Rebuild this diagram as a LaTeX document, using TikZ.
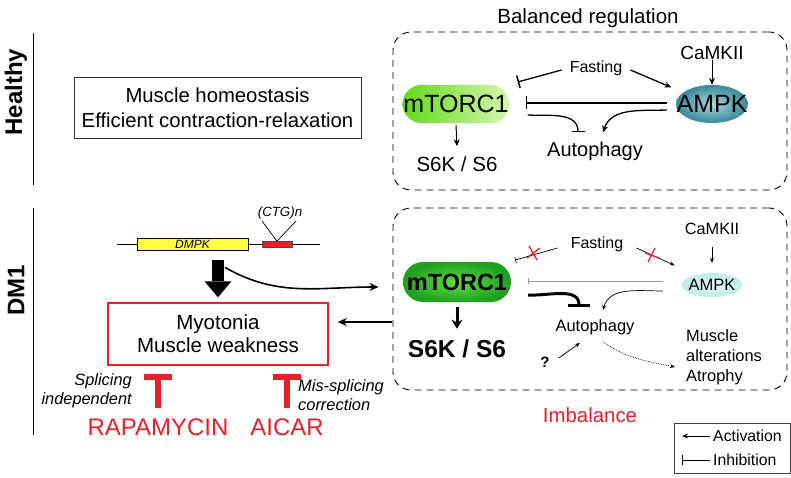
\documentclass[tikz,border=0pt]{standalone}
\usepackage{fontspec}
\setmainfont{Liberation Sans}
\usetikzlibrary{arrows.meta,shapes.misc,shapes.geometric,calc}
\definecolor{myred}{HTML}{E8202A}
\definecolor{hgreenL}{HTML}{62D81A}
\definecolor{hgreenR}{HTML}{D6F6B0}
\definecolor{dgreenI}{HTML}{5EE040}
\definecolor{dgreenO}{HTML}{1FA01F}
\definecolor{tealI}{HTML}{A6D6DE}
\definecolor{tealO}{HTML}{3A8898}
\definecolor{cyanI}{HTML}{E4FAF7}
\definecolor{cyanO}{HTML}{BCEDE8}
\definecolor{genY}{HTML}{FFFF40}
\tikzset{
  fs/.style={font=\fontsize{#1}{#1}\selectfont},
  fsb/.style={font=\bfseries\fontsize{#1}{#1}\selectfont},
  fsi/.style={font=\itshape\fontsize{#1}{#1}\selectfont},
  dbox/.style={draw, line width=0.9pt, dash pattern=on 7pt off 5pt, rounded corners=18pt},
  act/.style={-{Stealth[length=7pt,width=6pt]}, line width=1.3pt},
  actthin/.style={-{Stealth[length=5pt,width=4pt]}, line width=0.7pt},
  inh/.style={-{Bar[width=13pt,line width=1.5pt]}, line width=1.3pt},
  inhthin/.style={-{Bar[width=6pt,line width=0.7pt]}, line width=0.7pt},
  redT/.style={draw=myred, line width=5.5pt, -{Bar[width=28pt,line width=6pt]}},
  redX/.style={draw=myred, line width=1.3pt},
}
\begin{document}
\begin{tikzpicture}[x=1pt,y=-1pt, every node/.style={inner sep=0pt}]
\useasboundingbox (0,0) rectangle (791,478);

% ---------- side labels ----------
\node[rotate=90, fsb=24] (lh) at (16,92) {Healthy};
\draw[line width=0.9pt] (33,33) -- (33,185);
\node[rotate=90, fsb=24] (ld) at (16,290) {DM1};
\draw[line width=0.9pt] (33,208) -- (33,435);

% ---------- Healthy ----------
\node[draw=black!80, line width=0.8pt, minimum width=287, minimum height=61, align=center,
      font=\fontsize{20.3}{25}\selectfont] (hb) at (217.5,107.5)
      {Muscle homeostasis\\Efficient contraction-relaxation};

\node[dbox, minimum width=394, minimum height=158] (hbx) at (590,111) {};
\node[fs=20.5] (bal) at (588,18) {Balanced regulation};

\node[rounded rectangle, minimum width=107, minimum height=38, left color=hgreenL, right color=hgreenR] (hm) at (456,104) {};
\node[fs=25] (hmt) at (hm) {mTORC1};
\node[ellipse, minimum width=72, minimum height=38, inner color=tealI, outer color=tealO] (ha) at (712,104) {};
\node[fs=25] (hat) at (ha) {AMPK};
\node[fs=19] (hc) at (712,53) {CaMKII};
\node[fs=16] (hf) at (596,68) {Fasting};
\node[fs=20] (hau) at (595,151) {Autophagy};
\node[fs=20.5] (hs) at (457,164) {S6K / S6};

\draw[act, line width=1pt] (hc.south) -- (ha.north);
\draw[inh] ($(hf.west)+(-8,2)$) -- ($(hm.east)+(8,-22)$);
\draw[act] ($(hf.east)+(8,2)$) -- ($(ha.north west)+(-15,-3)$);
\draw[inh] ($(ha.west)+(-9,-1)$) -- ($(hm.east)+(16,-1)$);
\draw[inh] ($(hm.east)+(18,11)$) to[out=-3,in=90] ($(hau.north)+(-17,-9)$);
\draw[act] ($(ha.west)+(-9,6)$) to[out=182,in=72] ($(hau.north)+(8,-9)$);
\draw[act, line width=1pt] ($(hm.south)+(0,2)$) -- ($(hs.north)+(0,-10)$);

% ---------- DM1 right ----------
\node[dbox, minimum width=394, minimum height=182] (dbx) at (590,299) {};
\node[fs=20.4, text=myred] (imb) at (590,415) {Imbalance};

\node[rounded rectangle, minimum width=108, minimum height=40, inner color=dgreenI, outer color=dgreenO] (dm) at (457,282) {};
\node[fsb=23.5] (dmt) at (dm) {mTORC1};
\node[ellipse, minimum width=60, minimum height=24, inner color=cyanI, outer color=cyanO] (da) at (712,285) {};
\node[fs=16.5] (dat) at (da) {AMPK};
\node[fs=16.3] (dc) at (712,229) {CaMKII};
\node[fs=16] (df) at (597,244) {Fasting};
\node[fs=16.5] (dau) at (595,327) {Autophagy};
\node[fsb=15] (dq) at (545,362) {?};
\node[anchor=west, align=left, font=\fontsize{16.4}{20}\selectfont] (dmus) at (686,357) {Muscle\\alterations\\Atrophy};
\node[fsb=24.5] (ds) at (457,349) {S6K / S6};

\draw[actthin] ($(dc.south)+(0,12)$) -- ($(da.north)+(0,-10)$);
\draw[inhthin] ($(df.west)+(-13,4)$) -- ($(dm.east)+(4,-22)$);
\draw[redX] (527,258) -- (540,248) (529,246) -- (537,260);
\draw[actthin] ($(df.east)+(13,4)$) -- ($(da.north west)+(-16,-11)$);
\draw[redX] (645,253) -- (659,258) (648,262) -- (655,248);
\draw[draw=black!40, line width=0.9pt, -{Bar[width=6pt,line width=0.9pt]}] ($(da.west)+(-19,-4)$) -- ($(dm.east)+(17,-1)$);
\draw[line width=3pt, -{Bar[width=22pt,line width=3pt]}] ($(dm.east)+(17,13)$) to[out=-3,in=90] ($(dau.north)+(-16,-12)$);
\draw[actthin] ($(da.west)+(-19,6)$) to[out=180,in=75] ($(dau.north)+(8,-9)$);
\draw[actthin] ($(dq.east)+(9,-4)$) -- ($(dau.south)+(-15,8)$);
\draw[actthin, densely dotted] ($(dau.south)+(8,7)$) to[out=-35,in=168] ($(dmus.west)+(-11,10)$);
\draw[line width=3pt, -{Stealth[length=9pt,width=11pt]}] ($(dm.south)+(0,5)$) -- ($(ds.north)+(0,-11)$);

% ---------- DM1 left ----------
\draw[line width=0.8pt] (117,244) -- (320,244);
\node[draw, line width=0.7pt, fill=genY, minimum width=111, minimum height=12, fsi=12] (dmpk) at (192.5,244) {DMPK};
\node[draw=black!70, line width=0.6pt, fill=myred, minimum width=30, minimum height=6] (ctgb) at (277,244.5) {};
\node[fsi=13.3] (ctg) at (280,213) {(CTG)n};
\draw[line width=0.7pt] (262,221) -- (ctgb.north) -- (296,221);

\node[draw=myred, line width=1.4pt, minimum width=220, minimum height=62, align=center,
      font=\fontsize{20.5}{23}\selectfont] (myo) at (218,334) {Myotonia\\Muscle weakness};

\draw[line width=12pt, -{Triangle[length=16pt 0 0,width=27pt 0 0,line width=0pt 0 0]}] ($(myo.north |- dmpk.south)+(0,10)$) -- ($(myo.north)+(0,-5)$);
\draw[line width=1.6pt, -{Stealth[length=9pt,width=8pt]}] ($(myo.north |- dmpk.south)+(7,17)$) to[out=-30,in=180] ($(dbx.west)+(-14,-12)$);
\draw[line width=1.6pt, -{Stealth[length=9pt,width=8pt]}] ($(dbx.west)+(-1,23)$) -- ($(myo.east)+(9,-12)$);

\node[fs=24, text=myred] (rap) at (158,427) {RAPAMYCIN};
\node[fs=24, text=myred] (aic) at (287,427) {AICAR};
\draw[redT] ($(rap.north)+(0,-10)$) -- ($(myo.south -| rap.north)+(0,8)$);
\draw[redT] ($(aic.north)+(0,-10)$) -- ($(myo.south -| aic.north)+(0,8)$);
\node[anchor=east, align=right, font=\itshape\fontsize{16.4}{19}\selectfont] (spl) at (132,390.5) {Splicing\\independent};
\node[anchor=west, align=left, font=\itshape\fontsize{16.4}{19}\selectfont] (mis) at (298,395.5) {Mis-splicing\\correction};

% ---------- legend ----------
\node[draw=black!75, line width=0.8pt, minimum width=116, minimum height=50] (leg) at (732,448) {};
\node[anchor=west, fs=15.8] (la) at (713,436) {Activation};
\node[anchor=west, fs=15.8] (li) at (713,460) {Inhibition};
\draw[-{Stealth[length=6pt,width=5pt]}, line width=1pt] ($(la.west)+(-3,0)$) -- ($(la.west)+(-31,0)$);
\draw[-{Bar[width=10pt,line width=1pt]}, line width=1pt] ($(li.west)+(-3,0)$) -- ($(li.west)+(-31,0)$);
\end{tikzpicture}
\end{document}
